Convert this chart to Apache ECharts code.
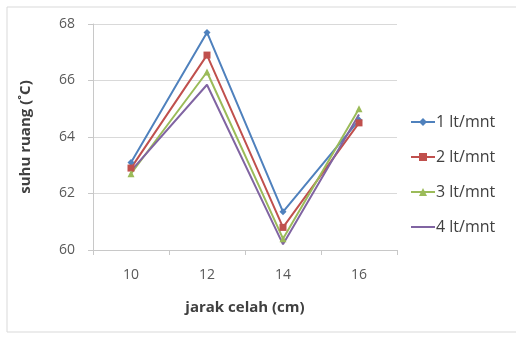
<!DOCTYPE html>
<html>
<head>
<meta charset="utf-8">
<script src="https://cdn.jsdelivr.net/npm/echarts@6/dist/echarts.min.js"></script>
<style>
  html, body { margin: 0; padding: 0; background: #fff; }
  #chart { width: 516px; height: 338px; }
</style>
</head>
<body>
<div id="chart"></div>
<script>
  const categories = ['10', '12', '14', '16'];
  const seriesNames = ['1 lt/mnt', '2 lt/mnt', '3 lt/mnt', '4 lt/mnt'];
  const flow1 = [63.1, 67.7, 61.35, 64.6];
  const flow2 = [62.9, 66.9, 60.8, 64.5];
  const flow3 = [62.7, 66.3, 60.4, 65.0];
  const flow4 = [62.8, 65.85, 60.2, 64.8];
  const yTicks = [60, 62, 64, 66, 68];

  const colors = ['#4F81BD', '#C0504D', '#9BBB59', '#8064A2'];
  const symbols = ['diamond', 'rect', 'triangle', 'none'];
  const values = [flow1, flow2, flow3, flow4];

  const chart = echarts.init(document.getElementById('chart'));

  const option = {
    animation: false,
    textStyle: { fontFamily: 'Open Sans, Liberation Sans, sans-serif' },
    graphic: [
      {
        type: 'rect',
        shape: { x: 7, y: 7, width: 520, height: 325 },
        style: { fill: 'none', stroke: '#d9d9d9', lineWidth: 1 }
      }
    ],
    grid: { left: 93, right: 119, top: 24, bottom: 88 },
    legend: {
      orient: 'vertical',
      left: 405,
      top: 109,
      itemGap: 19,
      itemWidth: 24,
      itemHeight: 10,
      textStyle: { fontSize: 16, color: '#404040', padding: [0, 0, 0, -4] },
      data: seriesNames.map((name, i) => (
        symbols[i] === 'none' ? { name: name, itemStyle: { opacity: 0 } } : { name: name }
      ))
    },
    xAxis: {
      type: 'category',
      data: categories,
      boundaryGap: true,
      name: 'jarak celah (cm)',
      nameLocation: 'middle',
      nameGap: 50,
      nameTextStyle: { fontSize: 15, fontWeight: 'bold', color: '#404040' },
      axisLine: { lineStyle: { color: '#c8c8c8' } },
      axisTick: { show: true, length: 5, lineStyle: { color: '#c8c8c8' } },
      axisLabel: { fontSize: 14, color: '#595959', margin: 18 }
    },
    yAxis: {
      type: 'value',
      min: yTicks[0],
      max: yTicks[yTicks.length - 1],
      interval: 2,
      name: 'suhu ruang (˚C)',
      nameLocation: 'middle',
      nameGap: 60,
      nameTextStyle: { fontSize: 15, fontWeight: 'bold', color: '#404040' },
      axisLine: { show: true, lineStyle: { color: '#c8c8c8' } },
      axisTick: { show: true, length: 5, lineStyle: { color: '#c8c8c8' } },
      axisLabel: { fontSize: 14, color: '#595959', margin: 18 },
      splitLine: { lineStyle: { color: '#d9d9d9' } }
    },
    series: seriesNames.map((name, i) => ({
      name: name,
      type: 'line',
      data: values[i],
      symbol: symbols[i],
      symbolSize: 7,
      showSymbol: symbols[i] !== 'none',
      lineStyle: { width: 2, color: colors[i] },
      itemStyle: { color: colors[i] }
    }))
  };

  chart.setOption(option);
</script>
</body>
</html>
